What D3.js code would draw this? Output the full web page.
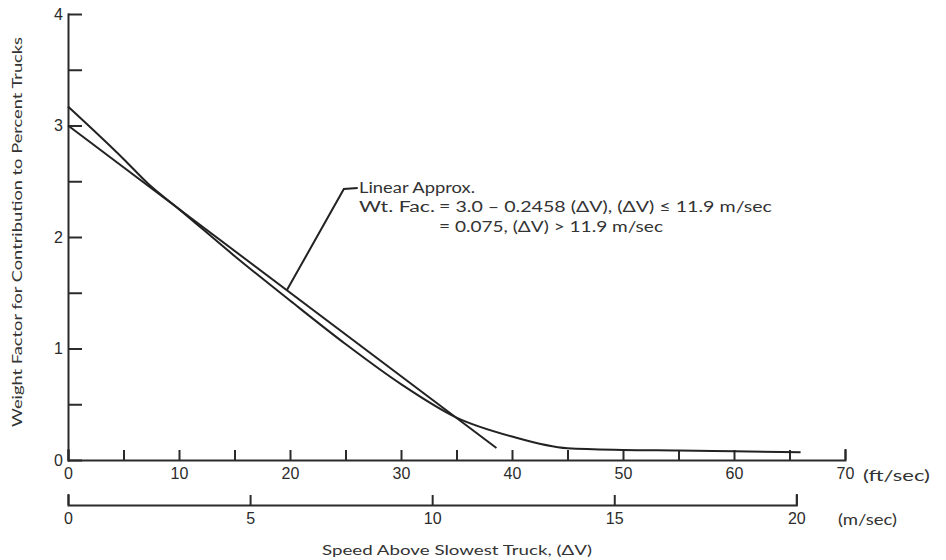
<!DOCTYPE html>
<html>
<head>
    <meta charset="utf-8"/>
    <title>Weight factor vs speed above slowest truck</title>
    <style>
        body {
            margin: 0;
            background-color: #fff;
        }
        svg {
            display: block;
            font-family: 'Lato', 'Liberation Sans', sans-serif;
        }
        .axis path, .axis line {
            stroke: #2b2b2b;
            stroke-width: 2px;
        }
        .axis text {
            font-size: 16px;
            fill: #2b2b2b;
        }
        .curve {
            fill: none;
            stroke: #222;
            stroke-width: 2px;
        }
        .label {
            fill: #333;
        }
    </style>
    <script src="https://cdnjs.cloudflare.com/ajax/libs/d3/7.8.5/d3.min.js"></script>
</head>
<body>
<svg id="chart" width="946" height="560"></svg>
<script>
// speed above slowest truck, ft/sec
const curveSpeed = [0, 5, 7.2, 10, 15, 20, 25, 30, 35, 40, 45, 50, 55, 60, 66];
// weight factor
const curveFactor = [3.17, 2.70, 2.48, 2.25, 1.83, 1.43, 1.04, 0.68, 0.38, 0.21, 0.105, 0.09, 0.085, 0.078, 0.07];

// linear approximation, drawn as a straight segment
const approxSpeed = [0, 38.6];
const approxFactor = [3.0, 0.108];

const ftTicks = [0, 5, 10, 15, 20, 25, 30, 35, 40, 45, 50, 55, 60, 65, 70];
const msTicks = [0, 5, 10, 15, 20];
const yTicks = [0, 0.5, 1, 1.5, 2, 2.5, 3, 3.5, 4];

const FT_PER_M = 3.28084;

const svg = d3.select("#chart");

const x = d3.scaleLinear().domain([0, 70]).range([68, 845]);
const xm = d3.scaleLinear().domain([0, 20]).range([x(0), x(20 * FT_PER_M)]);
const y = d3.scaleLinear().domain([0, 4]).range([460, 14]);

// ft/sec axis
svg.append("g")
    .attr("class", "axis")
    .attr("transform", `translate(0,${y(0)})`)
    .call(d3.axisBottom(x)
        .tickValues(ftTicks)
        .tickSize(-10)
        .tickSizeOuter(-10)
        .tickPadding(8)
        .tickFormat(d => d % 10 === 0 ? d : ""));

// m/sec axis
svg.append("g")
    .attr("class", "axis")
    .attr("transform", "translate(0,505)")
    .call(d3.axisBottom(xm)
        .tickValues(msTicks)
        .tickSize(-10)
        .tickSizeOuter(-10)
        .tickPadding(8));

// y axis, ticks pointing into the plot
svg.append("g")
    .attr("class", "axis")
    .attr("transform", `translate(${x(0)},0)`)
    .call(d3.axisLeft(y)
        .tickValues(yTicks)
        .tickSize(-14)
        .tickSizeOuter(0)
        .tickPadding(5)
        .tickFormat(d => Number.isInteger(d) ? d : ""));

svg.selectAll(".axis .domain").attr("stroke-linecap", "square");

// unit labels
svg.append("text").attr("class", "label")
    .attr("x", 863).attr("y", 481)
    .attr("font-size", 16)
    .attr("textLength", 67).attr("lengthAdjust", "spacingAndGlyphs")
    .text("(ft/sec)");
svg.append("text").attr("class", "label")
    .attr("x", 838).attr("y", 525)
    .attr("font-size", 16)
    .attr("textLength", 59).attr("lengthAdjust", "spacingAndGlyphs")
    .text("(m/sec)");

// axis titles
svg.append("text").attr("class", "label")
    .attr("x", 322).attr("y", 555)
    .attr("font-size", 14)
    .attr("textLength", 270).attr("lengthAdjust", "spacingAndGlyphs")
    .text("Speed Above Slowest Truck, (\u0394V)");

svg.append("text").attr("class", "label")
    .attr("transform", "translate(22,427) rotate(-90)")
    .attr("font-size", 13.5)
    .attr("textLength", 390).attr("lengthAdjust", "spacingAndGlyphs")
    .text("Weight Factor for Contribution to Percent Trucks");

// curves
const line = d3.line()
    .x(d => x(d[0]))
    .y(d => y(d[1]));

svg.append("path")
    .attr("class", "curve")
    .attr("d", line.curve(d3.curveMonotoneX)(curveSpeed.map((s, i) => [s, curveFactor[i]])));

svg.append("path")
    .attr("class", "curve")
    .attr("d", line.curve(d3.curveLinear)(approxSpeed.map((s, i) => [s, approxFactor[i]])));

// annotation leader, in data units
const leaderSpeed = [19.7, 24.85, 26.1];
const leaderFactor = [1.52, 2.43, 2.44];
svg.append("path")
    .attr("fill", "none")
    .attr("stroke", "#222")
    .attr("stroke-width", 2)
    .attr("d", d3.line().x(d => x(d[0])).y(d => y(d[1]))(leaderSpeed.map((s, i) => [s, leaderFactor[i]])));

const ann = svg.append("g").attr("class", "label").attr("font-size", 14.5);
ann.append("text").attr("x", 359).attr("y", 193)
    .attr("textLength", 116).attr("lengthAdjust", "spacingAndGlyphs")
    .text("Linear Approx.");
ann.append("text").attr("x", 359).attr("y", 212)
    .attr("textLength", 76).attr("lengthAdjust", "spacingAndGlyphs")
    .text("Wt. Fac.");
ann.append("text").attr("x", 439).attr("y", 212)
    .attr("textLength", 333).attr("lengthAdjust", "spacingAndGlyphs")
    .text("= 3.0 \u2013 0.2458 (\u0394V), (\u0394V) \u2264 11.9 m/sec");
ann.append("text").attr("x", 439).attr("y", 232)
    .attr("textLength", 224).attr("lengthAdjust", "spacingAndGlyphs")
    .text("= 0.075, (\u0394V) > 11.9 m/sec");
</script>
</body>
</html>
